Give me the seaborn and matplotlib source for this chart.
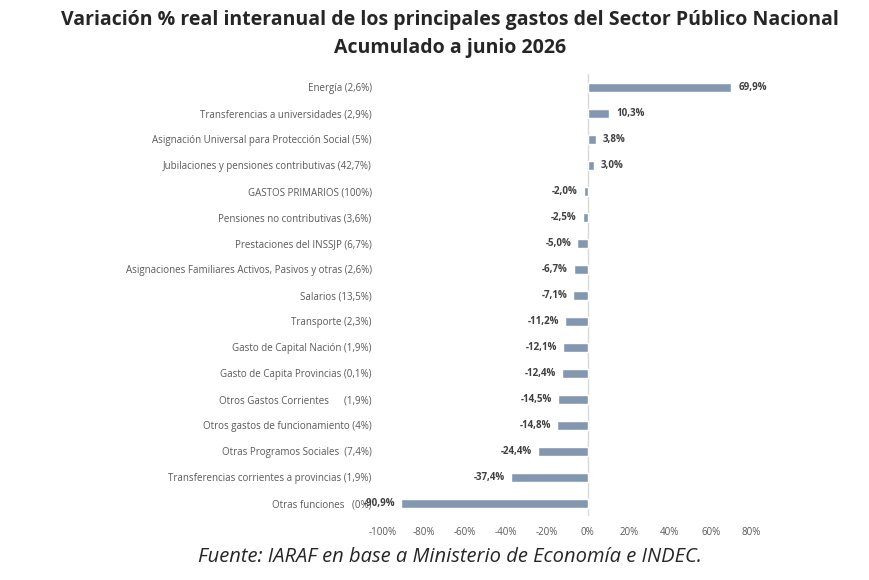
import matplotlib
matplotlib.use("Agg")
import matplotlib.pyplot as plt
import seaborn as sns
import pandas as pd
from matplotlib.ticker import FuncFormatter

categories = [
    "Energía (2,6%)",
    "Transferencias a universidades (2,9%)",
    "Asignación Universal para Protección Social (5%)",
    "Jubilaciones y pensiones contributivas (42,7%)",
    "GASTOS PRIMARIOS (100%)",
    "Pensiones no contributivas (3,6%)",
    "Prestaciones del INSSJP (6,7%)",
    "Asignaciones Familiares Activos, Pasivos y otras (2,6%)",
    "Salarios (13,5%)",
    "Transporte (2,3%)",
    "Gasto de Capital Nación (1,9%)",
    "Gasto de Capita Provincias (0,1%)",
    "Otros Gastos Corrientes      (1,9%)",
    "Otros gastos de funcionamiento (4%)",
    "Otras Programos Sociales  (7,4%)",
    "Transferencias corrientes a provincias (1,9%)",
    "Otras funciones   (0%)",
]
values = [69.9, 10.3, 3.8, 3.0, -2.0, -2.5, -5.0, -6.7, -7.1, -11.2,
          -12.1, -12.4, -14.5, -14.8, -24.4, -37.4, -90.9]
xticks = [-100, -80, -60, -40, -20, 0, 20, 40, 60, 80]

df = pd.DataFrame({"cat": categories, "val": values})

sns.set_theme(style="white")
plt.rcParams['font.family'] = ['Open Sans', 'DejaVu Sans']

fig = plt.figure(figsize=(8.7, 5.8), dpi=100)
ax = fig.add_axes([0.440, 0.110, 0.424, 0.762])

bar_color = "#8497B0"
sns.barplot(data=df, x="val", y="cat", orient="h", color=bar_color,
            width=0.36, saturation=1, ax=ax)

ax.set_xlim(-100, 80)
ax.set_xticks(xticks)
ax.xaxis.set_major_formatter(FuncFormatter(lambda v, p: f"{int(v)}%"))
ax.set_xlabel("")
ax.set_ylabel("")
for s in ax.spines.values():
    s.set_visible(False)
ax.axvline(0, color="#D9D9D9", lw=1, zorder=0)
ax.tick_params(axis="both", length=0, labelsize=7, colors="#595959")
ax.tick_params(axis="y", pad=8)
ax.tick_params(axis="x", pad=8)

for i, v in enumerate(values):
    txt = f"{v:.1f}%".replace(".", ",")
    if v >= 0:
        ax.text(v + 3.5, i, txt, va="center", ha="left", fontsize=7,
                fontweight="bold", color="#404040")
    else:
        ax.text(v - 3.0, i, txt, va="center", ha="right", fontsize=7,
                fontweight="bold", color="#404040")

fig.text(0.517, 0.965, "Variación % real interanual de los principales gastos del Sector Público Nacional",
         ha="center", va="center", fontsize=14, fontweight="bold", color="#262626")
fig.text(0.517, 0.918, "Acumulado a junio 2026",
         ha="center", va="center", fontsize=14, fontweight="bold", color="#262626")
fig.text(0.517, 0.040, "Fuente: IARAF en base a Ministerio de Economía e INDEC.",
         ha="center", va="center", fontsize=14.5, style="italic", color="#262626")

fig.savefig("out.png", dpi=100, facecolor="white")
